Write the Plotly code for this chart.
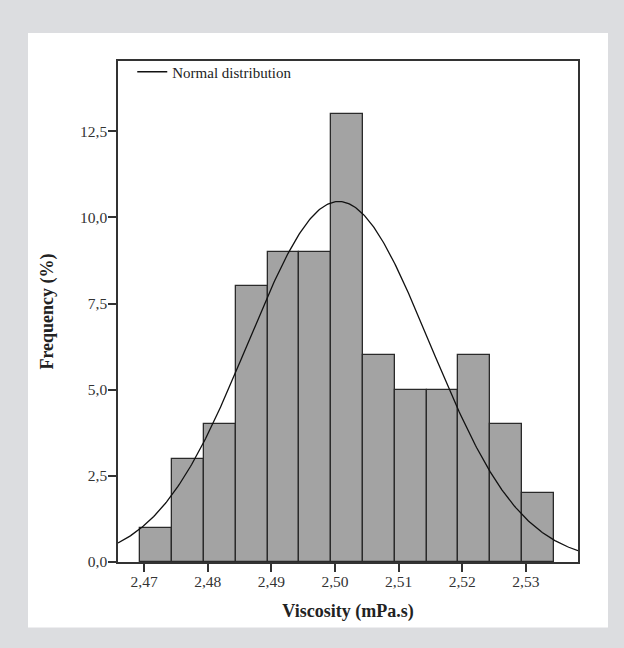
import numpy as np
import plotly.graph_objects as go

# Histogram data (bin centers in mPa.s, frequency values)
bin_centers = [2.4719, 2.4769, 2.4819, 2.4869, 2.4919, 2.4969, 2.5019,
               2.5069, 2.5119, 2.5169, 2.5219, 2.5269, 2.5319]
frequencies = [1, 3, 4, 8, 9, 9, 13, 6, 5, 5, 6, 4, 2]
bin_width = 0.005

# Normal fit parameters
norm_mean = 2.5006
norm_sd = 0.0143

x_tick_vals = [2.47, 2.48, 2.49, 2.50, 2.51, 2.52, 2.53]
x_tick_text = ["2,47", "2,48", "2,49", "2,50", "2,51", "2,52", "2,53"]
y_tick_vals = [0, 2.5, 5, 7.5, 10, 12.5]
y_tick_text = ["0,0", "2,5", "5,0", "7,5", "10,0", "12,5"]

x_range = [2.4659, 2.5382]
y_range = [0, 14.54]

n_total = sum(frequencies)
xc = np.linspace(x_range[0], x_range[1], 400)
yc = n_total * bin_width / (norm_sd * np.sqrt(2 * np.pi)) * np.exp(-0.5 * ((xc - norm_mean) / norm_sd) ** 2)

FONT = "Liberation Serif"

fig = go.Figure()
fig.add_trace(go.Bar(
    x=bin_centers, y=frequencies, width=[bin_width] * len(bin_centers),
    marker=dict(color="#a3a3a3", line=dict(color="#2a2a2a", width=1.3)),
    showlegend=False,
))
fig.add_trace(go.Scatter(
    x=xc, y=yc, mode="lines", name="Normal distribution",
    line=dict(color="#111111", width=1.3),
))

fig.update_layout(
    width=624, height=648,
    margin=dict(l=118, r=46, t=61, b=85.5),
    paper_bgcolor="#dcdde0",
    plot_bgcolor="#f0f0f0",
    font=dict(family=FONT, color="#222222", size=15),
    bargap=0,
    legend=dict(x=0.031, y=1.011, xanchor="left", yanchor="top",
                bgcolor="rgba(0,0,0,0)", font=dict(family=FONT, size=15, color="#222222"),
                itemwidth=30),
    shapes=[dict(type="rect", xref="paper", yref="paper",
                 x0=-0.1957, x1=1.0652, y0=-0.1306, y1=1.0558,
                 fillcolor="white", line=dict(width=0), layer="below")],
    xaxis=dict(range=x_range, tickvals=x_tick_vals, ticktext=x_tick_text,
               ticks="outside", ticklen=8, tickwidth=1.5, tickcolor="#333333",
               ticklabelstandoff=-3,
               showline=True, linecolor="#333333", linewidth=1.5, mirror=True,
               showgrid=False, zeroline=False,
               title=dict(text="<b>Viscosity (mPa.s)</b>", font=dict(family=FONT, size=18, color="#222222"), standoff=15),
               tickfont=dict(family=FONT, size=15.5, color="#333333")),
    yaxis=dict(range=y_range, tickvals=y_tick_vals, ticktext=y_tick_text,
               ticks="outside", ticklen=8, tickwidth=1.5, tickcolor="#333333",
               ticklabelstandoff=-2,
               showline=True, linecolor="#333333", linewidth=1.5, mirror=True,
               showgrid=False, zeroline=False,
               title=dict(text="<b>Frequency (%)</b>", font=dict(family=FONT, size=18, color="#222222"), standoff=22),
               tickfont=dict(family=FONT, size=15.5, color="#333333")),
)

fig.write_html("out.html")
